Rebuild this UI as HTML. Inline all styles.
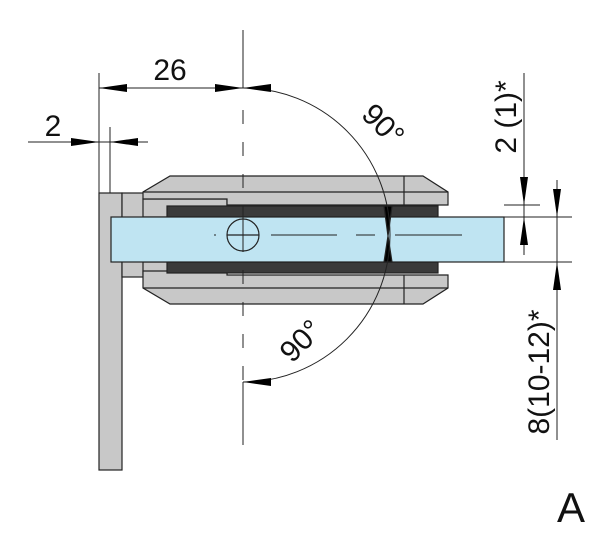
<!DOCTYPE html>
<html><head><style>body{margin:0;background:#fff}svg{display:block}</style></head><body>
<svg width="600" height="541" viewBox="0 0 600 541" xmlns="http://www.w3.org/2000/svg" font-family="Liberation Sans, sans-serif">
<g stroke="#222" stroke-width="1.2">
<!-- wall plate -->
<rect x="99" y="193" width="23" height="277" fill="#c8c8c8"/>
<rect x="122" y="193" width="24" height="84" fill="#c8c8c8"/>
<rect x="143" y="199" width="84" height="18" fill="#c8c8c8"/>
<rect x="143" y="262" width="84" height="13" fill="#c8c8c8"/>
<!-- upper clamp -->
<polygon points="170,176 423,176 448,192 448,205 227,205 227,199 143,199 143,192" fill="#c8c8c8"/>
<line x1="143" y1="192" x2="448" y2="192"/>
<line x1="404" y1="176" x2="404" y2="205"/>
<!-- lower clamp -->
<polygon points="143,271 227,271 227,275 448,275 448,288 423,304 170,304 143,288" fill="#c8c8c8"/>
<line x1="143" y1="288" x2="448" y2="288"/>
<line x1="404" y1="275" x2="404" y2="304"/>
<!-- dark pads -->
<rect x="167" y="206" width="271" height="11" fill="#3a3a3a"/>
<rect x="167" y="262" width="271" height="11" fill="#3a3a3a"/>
<!-- glass -->
<rect x="111" y="217" width="393" height="45" fill="#bfe4f2"/>
<polygon points="384,206 392,206 388,236 392,262 384,262 388,236" fill="#000"/>
<circle cx="243" cy="235" r="16" fill="none"/>
<line x1="227" y1="235" x2="259" y2="235"/>
</g>
<g stroke="#222" stroke-width="1" fill="none">
<line x1="243" y1="219" x2="243" y2="251"/>
<line x1="214" y1="235" x2="216" y2="235"/>
<line x1="271" y1="235" x2="337" y2="235"/>
<line x1="356" y1="235" x2="375" y2="235"/>
<line x1="395" y1="235" x2="462" y2="235"/>
<line x1="243" y1="30" x2="243" y2="88"/>
<line x1="243" y1="110" x2="243" y2="382" stroke-dasharray="14,18"/>
<line x1="243" y1="382" x2="243" y2="445"/>
<path d="M243 88 A147 147 0 0 1 243 382"/>
<line x1="99" y1="73" x2="99" y2="193"/>
<line x1="110" y1="127" x2="110" y2="193"/>
<line x1="99" y1="88" x2="243" y2="88"/>
<line x1="28" y1="142" x2="148" y2="142"/>
<line x1="524" y1="73" x2="524" y2="255"/>
<line x1="504" y1="205" x2="540" y2="205"/>
<line x1="504" y1="217" x2="572" y2="217"/>
<line x1="504" y1="262" x2="572" y2="262"/>
<line x1="557" y1="180" x2="557" y2="440"/>
</g>
<g fill="#000">
<polygon points="99,88 127,84 127,92"/>
<polygon points="243,88 215,84 215,92"/>
<polygon points="243,88 271,84 271,92"/>
<polygon points="243,382 271,378 271,386"/>
<polygon points="99,142 71,138 71,146"/>
<polygon points="110,142 138,138 138,146"/>
<polygon points="524,205 520,177 528,177"/>
<polygon points="524,217 520,245 528,245"/>
<polygon points="557,217 553,189 561,189"/>
<polygon points="557,262 553,290 561,290"/>
</g>
<g fill="#111" font-size="30">
<text x="53" y="136" text-anchor="middle">2</text>
<text x="170" y="80" text-anchor="middle">26</text>
<text transform="translate(376,132) rotate(45)" text-anchor="middle">90°</text>
<text transform="translate(308,348) rotate(-45)" text-anchor="middle">90°</text>
<text transform="translate(516,117) rotate(-90)" text-anchor="middle">2 (1)*</text>
<text transform="translate(549,372) rotate(-90)" text-anchor="middle">8(10-12)*</text>
<text x="571" y="522" text-anchor="middle" font-size="42">A</text>
</g>
</svg>
</body></html>
